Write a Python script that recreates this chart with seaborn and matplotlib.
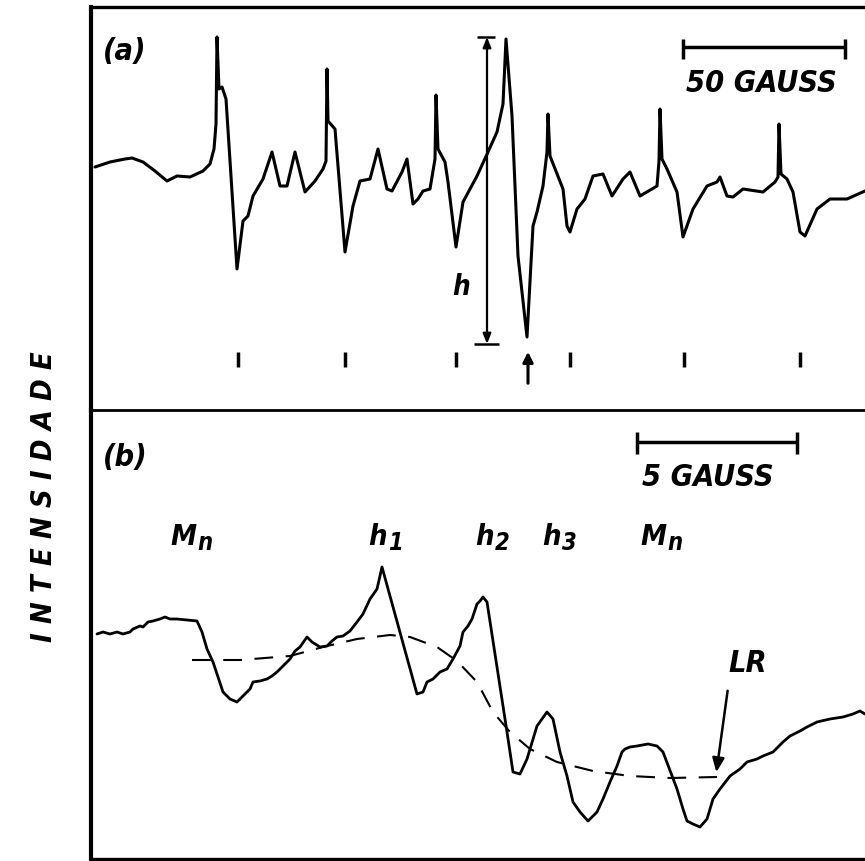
import matplotlib
matplotlib.use("Agg")
import matplotlib.pyplot as plt
import seaborn as sns
import pandas as pd

# ---------------- data ----------------
# panel (a): wide-sweep spectrum (field position, recorder deflection)
field_a = [95, 110, 125, 132, 143, 155, 167, 177, 190, 203, 210, 214, 216, 217, 219, 222, 226,
           237, 243, 248, 253, 263, 272, 280, 287, 295, 305, 315, 323, 326, 327, 328, 335, 345,
           353, 360, 370, 378, 387, 392, 402, 407, 413, 418, 423, 430, 435, 436, 438, 445, 448,
           456, 463, 477, 488, 497, 503, 506, 512, 518, 527, 533, 537, 543, 547, 548, 550, 563,
           567, 570, 577, 585, 593, 603, 612, 623, 630, 640, 657, 659, 660, 662, 667, 677, 683,
           693, 707, 717, 720, 727, 733, 743, 763, 775, 778, 779, 781, 787, 793, 800, 805, 817,
           830, 847, 865]
signal_a = [168, 163, 160, 159, 163, 172, 182, 177, 178, 172, 165, 150, 125, 38, 90, 88, 100,
            270, 222, 217, 197, 180, 153, 187, 187, 153, 193, 182, 170, 162, 70, 122, 130, 253,
            207, 182, 180, 150, 190, 192, 173, 160, 205, 200, 192, 190, 160, 96, 150, 163, 183,
            248, 203, 177, 153, 133, 105, 40, 117, 257, 338, 227, 213, 187, 153, 115, 157, 190,
            227, 233, 210, 200, 177, 175, 197, 180, 173, 197, 187, 162, 110, 160, 170, 193, 238,
            210, 187, 183, 178, 197, 198, 190, 193, 183, 178, 125, 175, 180, 193, 233, 237, 210,
            200, 200, 192]
line_marks_a = [238, 345, 456, 570, 684, 800]
marked_line_a = 528

# panel (b): expanded spectrum and the background (dashed) line
field_b = [97, 103, 110, 117, 123, 130, 133, 140, 143, 148, 153, 160, 165, 170, 177, 187, 197,
           202, 207, 213, 223, 230, 237, 243, 250, 253, 260, 267, 272, 277, 283, 290, 295, 300,
           307, 312, 320, 327, 332, 337, 343, 350, 357, 363, 370, 377, 382, 417, 423, 427, 433,
           440, 447, 453, 460, 463, 468, 472, 477, 480, 483, 487, 507, 513, 520, 527, 537, 547,
           553, 560, 567, 573, 580, 588, 597, 603, 610, 617, 622, 625, 630, 637, 648, 657, 663,
           677, 683, 687, 693, 700, 707, 713, 720, 730, 740, 747, 757, 763, 773, 783, 790, 800,
           807, 817, 830, 843, 853, 860, 865]
signal_b = [635, 633, 635, 633, 635, 633, 630, 627, 628, 623, 622, 620, 618, 620, 620, 621, 622,
            633, 650, 663, 693, 700, 703, 697, 690, 683, 682, 680, 677, 673, 667, 660, 652, 648,
            638, 643, 648, 647, 642, 638, 637, 632, 623, 615, 600, 590, 568, 695, 693, 683, 680,
            673, 670, 660, 647, 633, 627, 620, 605, 602, 598, 603, 733, 773, 775, 760, 727, 713,
            720, 753, 777, 803, 813, 822, 813, 800, 783, 767, 753, 750, 748, 747, 745, 747, 753,
            790, 810, 822, 825, 828, 820, 800, 790, 777, 770, 763, 760, 757, 753, 743, 737, 732,
            728, 723, 720, 718, 715, 712, 715]
field_bg = [192, 240, 290, 323, 357, 390, 410, 437, 457, 477, 493, 510, 530, 557, 593, 630, 670, 717]
signal_bg = [661, 661, 657, 648, 640, 636, 638, 648, 662, 683, 713, 733, 750, 763, 772, 777, 779, 778]

peak_base_b = ["M", "h", "h", "h", "M"]
peak_sub_b = ["n", "1", "2", "3", "n"]
peak_label_x = [170, 368, 475, 542, 640]

# ---------------- style ----------------
sns.set_theme(style="white")
plt.rcParams['font.family'] = ['DejaVu Sans']

W, H = 865, 862
fig = plt.figure(figsize=(W / 100, H / 100), dpi=100)
fig.patch.set_facecolor("white")
left = 91 / W
ax_a = fig.add_axes([left, 1 - 411 / H, 1 - left, (411 - 8) / H])
ax_b = fig.add_axes([left, 1 - 860 / H, 1 - left, (860 - 411) / H])
ax_b.patch.set_alpha(0)

txt = dict(color="black", fontstyle="italic", fontweight="bold", fontstretch="condensed")

for ax, (y0, y1) in ((ax_a, (411, 8)), (ax_b, (860, 411))):
    ax.set_xlim(91, 865)
    ax.set_ylim(y0, y1)
    ax.set_xticks([])
    ax.set_yticks([])
    ax.spines['right'].set_visible(False)
    ax.spines['left'].set_linewidth(3.0)
    for s in ('top', 'bottom'):
        ax.spines[s].set_linewidth(2.0)
    for s in ax.spines.values():
        s.set_color("black")
ax_a.spines['top'].set_linewidth(2.4)
ax_b.spines['top'].set_visible(False)
ax_b.spines['bottom'].set_linewidth(2.4)

# ---------------- panel (a) ----------------
df_a = pd.DataFrame({"campo": field_a, "sinal": signal_a})
sns.lineplot(data=df_a, x="campo", y="sinal", ax=ax_a, sort=False, estimator=None,
             color="black", linewidth=2.2)
ax_a.set_xlabel("")
ax_a.set_ylabel("")
ax_a.vlines(line_marks_a, 353, 368, color="black", linewidth=2.5)
ax_a.annotate("", xy=(marked_line_a, 350), xytext=(marked_line_a, 387),
              arrowprops=dict(arrowstyle="-|>,head_length=0.5,head_width=0.25",
                              color="black", lw=2.2))
# h amplitude marker
ax_a.annotate("", xy=(487, 38), xytext=(487, 345),
              arrowprops=dict(arrowstyle="<|-|>,head_length=0.5,head_width=0.2",
                              color="black", lw=1.6, shrinkA=0, shrinkB=0))
ax_a.hlines([38], 477, 495, color="black", linewidth=1.8)
ax_a.hlines([345], 474, 499, color="black", linewidth=1.8)
ax_a.text(461, 287, "h", fontsize=20, ha="center", va="center", **txt)
# scale bar 50 gauss
ax_a.hlines([48], 683, 845, color="black", linewidth=2.5)
ax_a.vlines([683, 845], 40, 60, color="black", linewidth=2.5)
ax_a.text(686, 84, "50 GAUSS", fontsize=22, ha="left", va="center", **txt)
ax_a.text(103, 52, "(a)", fontsize=22, ha="left", va="center", **txt)

# ---------------- panel (b) ----------------
df_b = pd.DataFrame({"campo": field_b, "sinal": signal_b})
sns.lineplot(data=df_b, x="campo", y="sinal", ax=ax_b, sort=False, estimator=None,
             color="black", linewidth=2.0)
df_bg = pd.DataFrame({"campo": field_bg, "sinal": signal_bg})
sns.lineplot(data=df_bg, x="campo", y="sinal", ax=ax_b, sort=False, estimator=None,
             color="black", linewidth=1.5)
ax_b.lines[-1].set_dashes((9, 6))
ax_b.set_xlabel("")
ax_b.set_ylabel("")
for base, sub, x in zip(peak_base_b, peak_sub_b, peak_label_x):
    t = ax_b.text(x, 537, base, fontsize=21, ha="left", va="center", **txt)
    fig.canvas.draw()
    bb = t.get_window_extent()
    xr = ax_b.transData.inverted().transform((bb.x1, bb.y0))[0]
    ax_b.text(xr + 1, 543, sub, fontsize=17, ha="left", va="center", **txt)
# scale bar 5 gauss
ax_b.hlines([443], 637, 797, color="black", linewidth=2.5)
ax_b.vlines([637, 797], 433, 455, color="black", linewidth=2.5)
ax_b.text(642, 478, "5 GAUSS", fontsize=22, ha="left", va="center", **txt)
ax_b.text(103, 458, "(b)", fontsize=22, ha="left", va="center", **txt)
# LR arrow
ax_b.annotate("", xy=(716, 776), xytext=(728, 689),
              arrowprops=dict(arrowstyle="-|>,head_length=0.7,head_width=0.3",
                              color="black", lw=1.8))
ax_b.text(728, 664, "LR", fontsize=22, ha="left", va="center", **txt)

# y label
fig.text(44 / W, 1 - 497 / H, "I N T E N S I D A D E", rotation=90, fontsize=21,
         ha="center", va="center", **txt)

fig.savefig("out.png", dpi=100, facecolor="white")
